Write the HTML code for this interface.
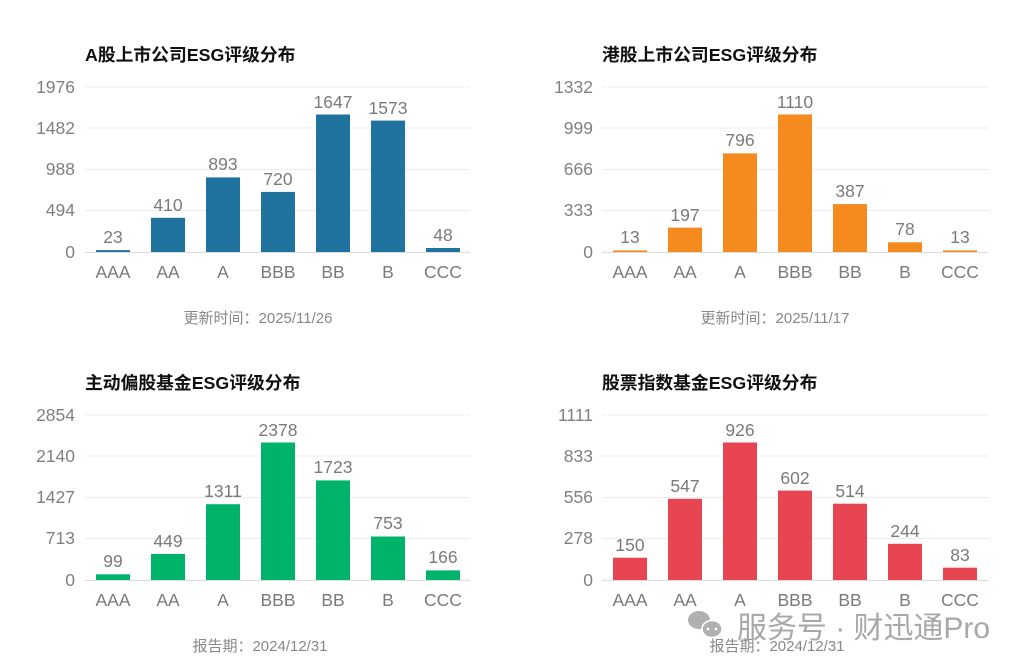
<!DOCTYPE html>
<html><head><meta charset="utf-8"><style>
html,body{margin:0;padding:0;background:#fff;width:1024px;height:670px;overflow:hidden}
svg{display:block}
.t{font-family:"Liberation Sans","Noto Sans CJK SC",sans-serif;font-weight:bold;font-size:17.8px;fill:#111}
.a{font-family:"Liberation Sans",sans-serif;font-size:17.5px;fill:#808080}
.v{font-family:"Liberation Sans",sans-serif;font-size:17.5px;fill:#7a7a7a;text-anchor:middle}
.f{font-family:"Liberation Sans","Noto Sans CJK SC",sans-serif;font-size:15px;fill:#888;text-anchor:middle}
.g{stroke:#ececec;stroke-width:1}
</style></head><body>
<svg width="1024" height="670" viewBox="0 0 1024 670">
<!-- Chart 1 -->
<g>
<text class="t" x="85" y="61">A股上市公司ESG评级分布</text>
<g class="a" text-anchor="end"><text x="75" y="93">1976</text><text x="75" y="134">1482</text><text x="75" y="175">988</text><text x="75" y="216">494</text><text x="75" y="258">0</text></g>
<line class="g" x1="85" x2="470" y1="87" y2="87"/><line class="g" x1="85" x2="470" y1="128" y2="128"/><line class="g" x1="85" x2="470" y1="169.5" y2="169.5"/><line class="g" x1="85" x2="470" y1="210.5" y2="210.5"/><line x1="85" x2="470" y1="252.5" y2="252.5" stroke="#ddd"/>
<g fill="#21739f">
<rect x="96" y="250.1" width="34" height="1.9"/><rect x="151" y="217.8" width="34" height="34.2"/><rect x="206" y="177.4" width="34" height="74.6"/><rect x="261" y="191.9" width="34" height="60.1"/><rect x="316" y="114.5" width="34" height="137.5"/><rect x="371" y="120.6" width="34" height="131.4"/><rect x="426" y="248" width="34" height="4"/></g>
<g class="v"><text x="113" y="243">23</text><text x="168" y="211">410</text><text x="223" y="170">893</text><text x="278" y="185">720</text><text x="333" y="108">1647</text><text x="388" y="114">1573</text><text x="443" y="241">48</text></g>
<g class="v"><text x="113" y="278">AAA</text><text x="168" y="278">AA</text><text x="223" y="278">A</text><text x="278" y="278">BBB</text><text x="333" y="278">BB</text><text x="388" y="278">B</text><text x="443" y="278">CCC</text></g>
<text class="f" x="258" y="323">更新时间：2025/11/26</text>
</g>
<!-- Chart 2 -->
<g transform="translate(517,0)">
<text class="t" x="85" y="61">港股上市公司ESG评级分布</text>
<g class="a" text-anchor="end"><text x="76" y="93">1332</text><text x="76" y="134">999</text><text x="76" y="175">666</text><text x="76" y="216">333</text><text x="76" y="258">0</text></g>
<line class="g" x1="85" x2="472" y1="87" y2="87"/><line class="g" x1="85" x2="472" y1="128" y2="128"/><line class="g" x1="85" x2="472" y1="169.5" y2="169.5"/><line class="g" x1="85" x2="472" y1="210.5" y2="210.5"/><line x1="85" x2="472" y1="252.5" y2="252.5" stroke="#ddd"/>
<g fill="#f58a1f">
<rect x="96" y="250.4" width="34" height="1.6"/><rect x="151" y="227.6" width="34" height="24.4"/><rect x="206" y="153.4" width="34" height="98.6"/><rect x="261" y="114.5" width="34" height="137.5"/><rect x="316" y="204.1" width="34" height="47.9"/><rect x="371" y="242.3" width="34" height="9.7"/><rect x="426" y="250.4" width="34" height="1.6"/></g>
<g class="v"><text x="113" y="243">13</text><text x="168" y="221">197</text><text x="223" y="146">796</text><text x="278" y="108">1110</text><text x="333" y="197">387</text><text x="388" y="235">78</text><text x="443" y="243">13</text></g>
<g class="v"><text x="113" y="278">AAA</text><text x="168" y="278">AA</text><text x="223" y="278">A</text><text x="278" y="278">BBB</text><text x="333" y="278">BB</text><text x="388" y="278">B</text><text x="443" y="278">CCC</text></g>
<text class="f" x="258" y="323">更新时间：2025/11/17</text>
</g>
<!-- Chart 3 -->
<g transform="translate(0,328)">
<text class="t" x="85" y="61">主动偏股基金ESG评级分布</text>
<g class="a" text-anchor="end"><text x="75" y="93">2854</text><text x="75" y="134">2140</text><text x="75" y="175">1427</text><text x="75" y="216">713</text><text x="75" y="258">0</text></g>
<line class="g" x1="85" x2="470" y1="87" y2="87"/><line class="g" x1="85" x2="470" y1="128" y2="128"/><line class="g" x1="85" x2="470" y1="169.5" y2="169.5"/><line class="g" x1="85" x2="470" y1="210.5" y2="210.5"/><line x1="85" x2="470" y1="252.5" y2="252.5" stroke="#ddd"/>
<g fill="#00b36b">
<rect x="96" y="246.3" width="34" height="5.7"/><rect x="151" y="226" width="34" height="26"/><rect x="206" y="176.2" width="34" height="75.8"/><rect x="261" y="114.5" width="34" height="137.5"/><rect x="316" y="152.4" width="34" height="99.6"/><rect x="371" y="208.5" width="34" height="43.5"/><rect x="426" y="242.4" width="34" height="9.6"/></g>
<g class="v"><text x="113" y="239">99</text><text x="168" y="219">449</text><text x="223" y="169">1311</text><text x="278" y="108">2378</text><text x="333" y="145">1723</text><text x="388" y="201">753</text><text x="443" y="235">166</text></g>
<g class="v"><text x="113" y="278">AAA</text><text x="168" y="278">AA</text><text x="223" y="278">A</text><text x="278" y="278">BBB</text><text x="333" y="278">BB</text><text x="388" y="278">B</text><text x="443" y="278">CCC</text></g>
<text class="f" x="260" y="323">报告期：2024/12/31</text>
</g>
<!-- Chart 4 -->
<g transform="translate(517,328)">
<text class="t" x="85" y="61">股票指数基金ESG评级分布</text>
<g class="a" text-anchor="end"><text x="76" y="93">1111</text><text x="76" y="134">833</text><text x="76" y="175">556</text><text x="76" y="216">278</text><text x="76" y="258">0</text></g>
<line class="g" x1="85" x2="472" y1="87" y2="87"/><line class="g" x1="85" x2="472" y1="128" y2="128"/><line class="g" x1="85" x2="472" y1="169.5" y2="169.5"/><line class="g" x1="85" x2="472" y1="210.5" y2="210.5"/><line x1="85" x2="472" y1="252.5" y2="252.5" stroke="#ddd"/>
<g fill="#e84552">
<rect x="96" y="229.7" width="34" height="22.3"/><rect x="151" y="170.8" width="34" height="81.2"/><rect x="206" y="114.5" width="34" height="137.5"/><rect x="261" y="162.6" width="34" height="89.4"/><rect x="316" y="175.7" width="34" height="76.3"/><rect x="371" y="215.8" width="34" height="36.2"/><rect x="426" y="239.7" width="34" height="12.3"/></g>
<g class="v"><text x="113" y="223">150</text><text x="168" y="164">547</text><text x="223" y="108">926</text><text x="278" y="156">602</text><text x="333" y="169">514</text><text x="388" y="209">244</text><text x="443" y="233">83</text></g>
<g class="v"><text x="113" y="278">AAA</text><text x="168" y="278">AA</text><text x="223" y="278">A</text><text x="278" y="278">BBB</text><text x="333" y="278">BB</text><text x="388" y="278">B</text><text x="443" y="278">CCC</text></g>
<text class="f" x="260" y="323">报告期：2024/12/31</text>
</g>
<!-- watermark -->
<g fill="#b0b0b0">
<ellipse cx="699" cy="620" rx="11" ry="9"/><ellipse cx="712" cy="629" rx="10" ry="8.5" stroke="#fff" stroke-width="1.5"/>
<circle cx="708" cy="629" r="1.4" fill="#fff"/><circle cx="716" cy="629" r="1.4" fill="#fff"/>
</g>
<text x="737" y="638" font-family="'Liberation Sans','Noto Sans CJK SC',sans-serif" font-size="30" fill="#a8a8a8" textLength="253">服务号 · 财迅通Pro</text>
</svg>
</body></html>
